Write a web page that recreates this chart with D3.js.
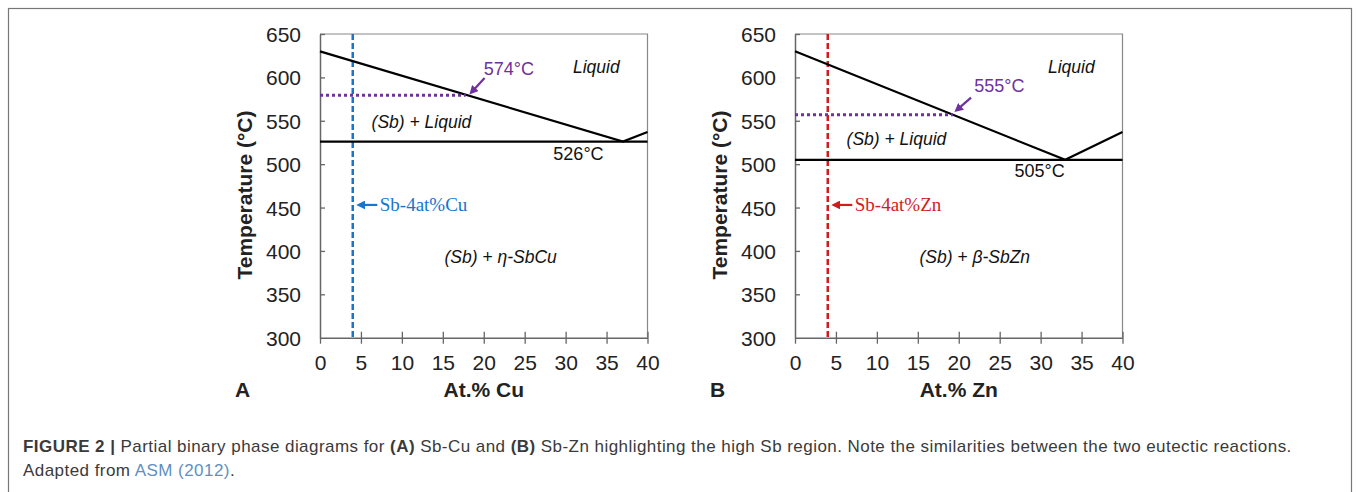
<!DOCTYPE html>
<html>
<meta charset="utf-8">
<style>
 body { margin: 0; background: #fff; }
 text { font-family: "Liberation Sans", Arial, sans-serif; }
 .tick_text { font-size: 21px; fill: #222; }
 .axis_title { font-size: 21px; font-weight: bold; fill: #222; }
 .phase_text { font-size: 17.5px; font-style: italic; fill: #111; }
 .temp_text { font-size: 18px; }
 .alloy_text { font-family: "Liberation Serif", "Times New Roman", serif; font-size: 19px; }
 .caption { font-size: 17px; fill: #3a3a3a; letter-spacing: 0.45px; }
</style>
<body>
<script src="https://cdnjs.cloudflare.com/ajax/libs/d3/7.8.5/d3.min.js"></script>
<script>

var width = 1357
var height = 492

// axis ticks shared by both panels
var xTicks = [0, 5, 10, 15, 20, 25, 30, 35, 40];
var yTicks = [300, 350, 400, 450, 500, 550, 600, 650];

// panel A, Sb-Cu
var cuLiquidus = [[0, 630], [37, 526], [40, 537]];
var cuEutectic = 526;
var cuDotted = [[0, 579.5], [17.8, 579.5]];
var cuAlloy = 4;

// panel B, Sb-Zn
var znLiquidus = [[0, 630], [33, 505], [40, 537]];
var znEutectic = 505;
var znDotted = [[0, 557], [19.3, 557]];
var znAlloy = 4;

var svg = d3.select("body")
      .append("svg")
      .attr("width", width)
      .attr("height", height);

// outer frame
svg.append("rect")
  .attr("x", 8.5).attr("y", 8.5)
  .attr("width", 1343).attr("height", 500)
  .attr("fill", "none")
  .attr("stroke", "#777")
  .attr("stroke-width", 1.2);

var defs = svg.append("defs");
function marker(id, color) {
  defs.append("marker")
    .attr("id", id)
    .attr("viewBox", "0 0 10 10")
    .attr("refX", 1).attr("refY", 5)
    .attr("markerWidth", 4).attr("markerHeight", 4)
    .attr("orient", "auto-start-reverse")
    .append("path")
      .attr("d", "M0,0 L10,5 L0,10 z")
      .attr("fill", color);
}
marker("arrow_purple", "#7030a0");
marker("arrow_blue", "#1874cd");
marker("arrow_red", "#d01c1c");

function drawPanel(p) {
  var x = d3.scaleLinear().domain([0, 40]).range([p.left, p.left + 327.5]);
  var y = d3.scaleLinear().domain([300, 650]).range([337.7, 34]);
  var g = svg.append("g");
  var line = d3.line().x(function (d) { return x(d[0]); }).y(function (d) { return y(d[1]); });

  // plot area border (top/right)
  g.append("path")
    .attr("d", "M" + x(0) + "," + y(650) + "H" + x(40) + "V" + y(300))
    .attr("fill", "none").attr("stroke", "#888").attr("stroke-width", 1.2);

  // axes
  var xAxis = d3.axisBottom(x).tickValues(xTicks).tickSizeInner(6).tickSizeOuter(0).tickPadding(11);
  var yAxis = d3.axisLeft(y).tickValues(yTicks).tickSizeInner(5).tickSizeOuter(0).tickPadding(14);
  var gx = g.append("g").attr("transform", "translate(0," + y(300) + ")").call(xAxis);
  var gy = g.append("g").attr("transform", "translate(" + x(0) + ",0)").call(yAxis);
  [gx, gy].forEach(function (a) {
    a.select(".domain").attr("stroke", "#666").attr("stroke-width", 1.5);
    a.selectAll(".tick line").attr("stroke", "#666").attr("stroke-width", 1.3);
    a.selectAll(".tick text").attr("class", "tick_text").attr("font-size", null).attr("font-family", null);
  });
  // ticks cross the axis
  gx.selectAll(".tick line").attr("y1", function (d) { return d === 0 ? 0 : -6; });
  gy.selectAll(".tick line").attr("x2", function (d) { return d === 300 ? 0 : 5; });
  gy.selectAll(".tick text").attr("dy", "0.36em");
  gx.selectAll(".tick text").attr("dy", "0.71em");

  // alloy composition line
  g.append("line")
    .attr("x1", x(p.alloy)).attr("x2", x(p.alloy))
    .attr("y1", y(650)).attr("y2", y(300))
    .attr("stroke", p.alloyColor).attr("stroke-width", 2.5)
    .attr("stroke-dasharray", "6,3");

  // eutectic horizontal
  g.append("line")
    .attr("x1", x(0)).attr("x2", x(40))
    .attr("y1", y(p.eutectic)).attr("y2", y(p.eutectic))
    .attr("stroke", "#000").attr("stroke-width", 2.2);

  // liquidus
  g.append("path").attr("d", line(p.liquidus))
    .attr("fill", "none").attr("stroke", "#000").attr("stroke-width", 2.2);

  // liquidus at alloy composition (dotted)
  g.append("path").attr("d", line(p.dotted))
    .attr("fill", "none").attr("stroke", "#7030a0").attr("stroke-width", 3)
    .attr("stroke-dasharray", "3,3");

  // purple temperature note + arrow
  g.append("text").attr("class", "temp_text")
    .attr("x", x(p.tempLabel[0])).attr("y", y(p.tempLabel[1]))
    .attr("fill", "#7030a0").text(p.tempText);
  g.append("line")
    .attr("x1", x(p.tempArrow[0][0])).attr("y1", y(p.tempArrow[0][1]))
    .attr("x2", x(p.tempArrow[1][0])).attr("y2", y(p.tempArrow[1][1]))
    .attr("stroke", "#7030a0").attr("stroke-width", 2.2)
    .attr("marker-end", "url(#arrow_purple)");

  // eutectic label
  g.append("text").attr("class", "temp_text")
    .attr("x", x(p.eutLabel[0])).attr("y", y(p.eutLabel[1]))
    .attr("fill", "#111").text(p.eutectic + "°C");

  // phase region labels
  g.append("text").attr("class", "phase_text")
    .attr("x", x(30.9)).attr("y", y(605)).text("Liquid");
  g.append("text").attr("class", "phase_text")
    .attr("x", x(6.3)).attr("y", y(p.sbLiqY)).text("(Sb) + Liquid");
  g.append("text").attr("class", "phase_text")
    .attr("x", x(15.2)).attr("y", y(386)).text(p.solidText);

  // alloy label with arrow
  g.append("line")
    .attr("x1", x(7)).attr("x2", x(5.4))
    .attr("y1", y(453)).attr("y2", y(453))
    .attr("stroke", p.alloyColor).attr("stroke-width", 2.2)
    .attr("marker-end", "url(#" + p.alloyMarker + ")");
  g.append("text").attr("class", "alloy_text")
    .attr("x", x(7.3)).attr("y", y(453)).attr("dy", "0.32em")
    .attr("fill", p.alloyColor).text(p.alloyText);

  // axis titles
  g.append("text").attr("class", "axis_title")
    .attr("text-anchor", "middle")
    .attr("x", x(20)).attr("y", 397).text(p.xTitle);
  g.append("text").attr("class", "axis_title")
    .attr("text-anchor", "middle")
    .attr("transform", "translate(" + (p.left - 68) + ",195) rotate(-90)")
    .text("Temperature (°C)");
  g.append("text").attr("class", "axis_title")
    .attr("x", p.left - 85).attr("y", 397).text(p.letter);
}

drawPanel({
  left: 320, liquidus: cuLiquidus, eutectic: cuEutectic, dotted: cuDotted, alloy: cuAlloy,
  alloyColor: "#1874cd", alloyMarker: "arrow_blue", alloyText: "Sb-4at%Cu",
  tempText: "574°C", tempLabel: [20, 602.7], tempArrow: [[20.1, 599.3], [18.9, 587]],
  eutLabel: [28.5, 504.8], sbLiqY: 541.7, solidText: "(Sb) + η-SbCu",
  xTitle: "At.% Cu", letter: "A"
});

drawPanel({
  left: 795, liquidus: znLiquidus, eutectic: znEutectic, dotted: znDotted, alloy: znAlloy,
  alloyColor: "#d01c1c", alloyMarker: "arrow_red", alloyText: "Sb-4at%Zn",
  tempText: "555°C", tempLabel: [21.9, 583], tempArrow: [[21.5, 576.6], [20.2, 566]],
  eutLabel: [26.8, 485.5], sbLiqY: 522, solidText: "(Sb) + β-SbZn",
  xTitle: "At.% Zn", letter: "B"
});

// caption
var cap = svg.append("text").attr("class", "caption").attr("x", 23).attr("y", 452);
cap.append("tspan").attr("font-weight", "bold").text("FIGURE 2 | ");
cap.append("tspan").text("Partial binary phase diagrams for ");
cap.append("tspan").attr("font-weight", "bold").text("(A)");
cap.append("tspan").text(" Sb-Cu and ");
cap.append("tspan").attr("font-weight", "bold").text("(B)");
cap.append("tspan").text(" Sb-Zn highlighting the high Sb region. Note the similarities between the two eutectic reactions.");

var cap2 = svg.append("text").attr("class", "caption").attr("x", 23).attr("y", 476);
cap2.append("tspan").text("Adapted from ");
cap2.append("tspan").attr("fill", "#5f8fbf").text("ASM (2012)");
cap2.append("tspan").text(".");
</script>
</body>
</html>
